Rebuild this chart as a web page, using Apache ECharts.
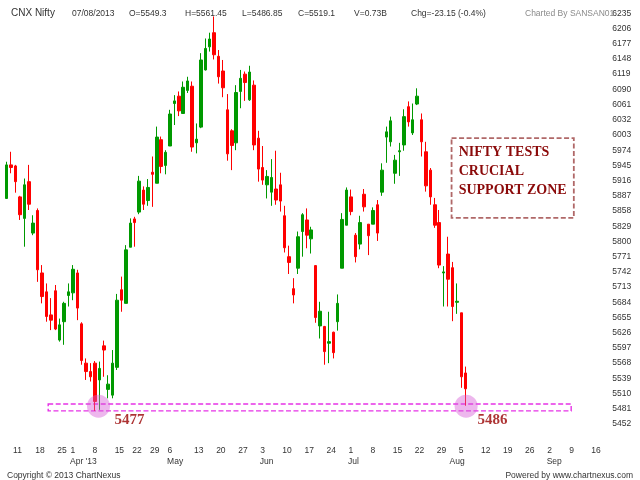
<!DOCTYPE html>
<html>
<head>
<meta charset="utf-8">
<script src="https://cdn.jsdelivr.net/npm/echarts@6/dist/echarts.min.js"></script>
<style>html,body{margin:0;padding:0;background:#fff}#c{width:640px;height:480px}</style>
</head>
<body>
<div id="c"></div>
<script>
// ---- trading days (2013) ----
const dates = [
  '03-08','03-11','03-12','03-13','03-14','03-15','03-18','03-19','03-20','03-21','03-22','03-25','03-26','03-28',
  '04-01','04-02','04-03','04-04','04-05','04-08','04-09','04-10','04-11','04-12','04-15','04-16','04-17','04-18',
  '04-22','04-23','04-25','04-26','04-29','04-30',
  '05-02','05-03','05-06','05-07','05-08','05-09','05-10','05-11','05-13','05-14','05-15','05-16','05-17',
  '05-20','05-21','05-22','05-23','05-24','05-27','05-28','05-29','05-30','05-31',
  '06-03','06-04','06-05','06-06','06-07','06-10','06-11','06-12','06-13','06-14','06-17','06-18','06-19','06-20','06-21',
  '06-24','06-25','06-26','06-27','06-28',
  '07-01','07-02','07-03','07-04','07-05','07-08','07-09','07-10','07-11','07-12','07-15','07-16','07-17','07-18','07-19',
  '07-22','07-23','07-24','07-25','07-26','07-29','07-30','07-31',
  '08-01','08-02','08-05','08-06','08-07'
];
// empty future slots shown on the time axis
const futureDates = [
  '08-08','08-09','08-12','08-13','08-14','08-15','08-16','08-19','08-20','08-21','08-22','08-23',
  '08-26','08-27','08-28','08-29','08-30','09-02','09-03','09-04','09-05','09-06',
  '09-09','09-10','09-11','09-12','09-13','09-16','09-17','09-18'
];

const opens = [
  5882,5946,5944,5885,5844,5914,5816,5859,5740,5704,5660,5706,5612,5647,
  5697,5702,5740,5643,5568,5552,5568,5536,5601,5518,5507,5560,5708,5682,
  5789,5843,5856,5898,5878,5932,
  5911,5994,5945,5982,6063,6077,6044,6088,6096,5988,6018,6127,6171,
  6198,6153,6125,6051,6011,5988,6086,6119,6070,6098,
  5997,5941,5908,5894,5900,5908,5849,5771,5710,5749,5819,5841,5805,5754,5639,
  5638,5606,5627,5647,5749,
  5831,5885,5812,5795,5890,5833,5833,5870,5894,5999,5990,5930,5971,5984,6057,
  6007,6062,6032,5971,5936,5870,5836,5740,
  5776,5750,5684,5664,5549.3
];
const closes = [
  5946,5941,5914,5851,5908,5871,5835,5746,5695,5657,5650,5633,5641,5682,
  5704,5747,5673,5573,5552,5542,5495,5558,5593,5528,5568,5688,5688,5784,
  5835,5836,5915,5871,5903,5928,
  5999,5943,5970,6043,6068,6049,6094,6106,5980,5995,6146,6168,6186,
  6156,6114,6093,5967,5983,6084,6111,6103,6123,5984,
  5938,5917,5924,5922,5879,5877,5788,5760,5698,5809,5851,5812,5822,5655,5667,
  5590,5609,5588,5682,5842,
  5898,5857,5771,5836,5866,5811,5859,5816,5936,6009,6030,5955,5973,6038,6028,
  6032,6077,5990,5906,5885,5831,5755,5742,
  5728,5676,5686,5542,5519.1
];
const lows = [
  5881,5930,5893,5841,5790,5860,5812,5723,5682,5647,5631,5631,5609,5603,
  5676,5688,5650,5565,5536,5533,5477,5479,5542,5501,5501,5555,5666,5682,
  5789,5790,5852,5860,5868,5866,
  5911,5930,5928,5982,6022,6039,6044,6083,5971,5968,6016,6126,6162,
  6147,6101,6075,5954,5936,5974,6054,6068,6068,5974,
  5914,5908,5882,5868,5870,5857,5779,5738,5682,5738,5771,5787,5777,5645,5615,
  5565,5568,5577,5630,5749,
  5831,5850,5760,5785,5857,5774,5833,5801,5887,5950,5981,5910,5925,5973,6019,
  6003,6060,5962,5895,5870,5826,5749,5676,
  5676,5648,5662,5521,5486.85
];
const highs = [
  5952,5971,5946,5887,5920,5946,5850,5863,5755,5720,5692,5717,5653,5685,
  5720,5755,5746,5646,5577,5568,5572,5571,5611,5545,5593,5700,5733,5793,
  5844,5847,5925,5905,5919,5962,
  6019,6000,5974,6051,6079,6086,6105,6114,6105,6025,6159,6187,6198,
  6229,6165,6146,6081,6014,6098,6127,6124,6135,6107,
  6011,5982,5936,5957,5973,5931,5868,5792,5730,5819,5854,5863,5828,5755,5685,
  5639,5666,5628,5699,5854,
  5903,5899,5816,5849,5900,5833,5865,5879,5949,6019,6038,5965,5988,6052,6067,
  6063,6092,6044,5990,5940,5883,5860,5753,
  5809,5761,5720,5664,5561.45
];

// ---- axis labelling ----
const weekLabelDates = ['03-11','03-18','03-25','04-01','04-08','04-15','04-22','04-29','05-06','05-13','05-20','05-27',
  '06-03','06-10','06-17','06-24','07-01','07-08','07-15','07-22','07-29','08-05','08-12','08-19','08-26','09-02','09-09','09-16'];
const monthLabelDates = ['04-01','05-06','06-03','07-01','08-01','09-02'];
const monthLabelTexts = ["Apr '13",'May','Jun','Jul','Aug','Sep'];
const yMin = 5452, yMax = 6235, yStep = 29;

// ---- annotations (x in slot index, y in index points) ----
const supportZone = [9.4, 127.9, 5477, 5490];
const markerCircles = [[20.8, 5486], [104.1, 5486]];
const markerTexts = [[27.8, 5459, '5477'], [110.1, 5459, '5486']];
const noteBox = [100.8, 128.5, 5845, 5997];
const noteLines = ['NIFTY TESTS', 'CRUCIAL', 'SUPPORT ZONE'];

// ---- header ----
const last = dates.length - 1;
const headerTexts = [
  'CNX Nifty', '07/08/2013', 'O=' + opens[last], 'H=' + highs[last], 'L=' + lows[last],
  'C=' + closes[last], 'V=0.73B', 'Chg=-23.15 (-0.4%)', 'Charted By SANSAN01'
];
const headerLeft = [6, 67, 124, 180, 237, 293, 349, 406, 520];

const allCats = dates.concat(futureDates);
const weekSet = new Set(weekLabelDates);
const monthMap = {};
monthLabelDates.forEach((d, i) => monthMap[d] = monthLabelTexts[i]);
const candles = dates.map((d, i) => [opens[i], closes[i], lows[i], highs[i]]);

const sans = '"Liberation Sans", Arial, sans-serif';
const serif = '"Liberation Serif", "Times New Roman", serif';

const titles = headerTexts.map((t, i) => ({
  text: t, left: headerLeft[i], top: i === 0 ? 3 : 4,
  textStyle: { fontSize: i === 0 ? 10 : 8.5, fontWeight: 'normal', fontFamily: sans,
    color: i === headerTexts.length - 1 ? '#8a8a8a' : '#333' }
}));
titles.push({ text: 'Copyright © 2013 ChartNexus', left: 2, top: 466,
  textStyle: { fontSize: 8.5, fontWeight: 'normal', fontFamily: sans, color: '#333' } });
titles.push({ text: 'Powered by www.chartnexus.com', right: 2, top: 466,
  textStyle: { fontSize: 8.5, fontWeight: 'normal', fontFamily: sans, color: '#333' } });

const chart = echarts.init(document.getElementById('c'));
chart.setOption({
  animation: false,
  backgroundColor: '#fff',
  title: titles,
  grid: { left: 4.5, right: 39.7, top: 13.3, bottom: 56 },
  xAxis: [
    { type: 'category', data: allCats, boundaryGap: true,
      axisLine: { show: false }, axisTick: { show: false }, splitLine: { show: false },
      axisLabel: { interval: (i, v) => weekSet.has(v), formatter: v => String(parseInt(v.slice(3), 10)),
        align: 'left', padding: [0, 0, 0, 2], margin: 22, fontSize: 8.5, color: '#333', fontFamily: sans } },
    { type: 'category', data: allCats, boundaryGap: true, position: 'bottom',
      axisLine: { show: false }, axisTick: { show: false }, splitLine: { show: false },
      axisLabel: { interval: (i, v) => v in monthMap, formatter: v => monthMap[v] || '',
        align: 'left', padding: [0, 0, 0, 1.5], margin: 33.5, fontSize: 8.5, color: '#333', fontFamily: sans } },
    { type: 'value', min: -0.5, max: allCats.length - 0.5, show: false }
  ],
  yAxis: {
    type: 'value', position: 'right', min: yMin, max: yMax, interval: yStep,
    axisLine: { show: false }, axisTick: { show: false }, splitLine: { show: false },
    axisLabel: { margin: 12, fontSize: 8.5, color: '#333', fontFamily: sans, formatter: v => String(v) }
  },
  series: [
    { type: 'candlestick', xAxisIndex: 0, data: candles, barWidth: 3,
      itemStyle: { color: '#009900', color0: '#ff0000', borderColor: '#009900', borderColor0: '#ff0000', borderWidth: 1 } },
    { type: 'scatter', xAxisIndex: 2, data: markerCircles, symbolSize: 23, silent: true, z: 3,
      itemStyle: { color: 'rgba(214,92,214,0.55)' },
      markArea: { silent: true,
        data: [
          [ { coord: [supportZone[0], supportZone[3]],
              itemStyle: { color: 'rgba(0,0,0,0)', borderColor: '#e633e6', borderWidth: 1.4, borderType: [5, 2.5] } },
            { coord: [supportZone[1], supportZone[2]] } ],
          [ { coord: [noteBox[0], noteBox[3]],
              itemStyle: { color: 'rgba(0,0,0,0)', borderColor: '#b06868', borderWidth: 1.8, borderType: [5, 2.5] },
              label: { show: true, position: 'insideTopLeft', formatter: noteLines.join('\n'),
                color: '#8b0a0a', fontFamily: serif, fontWeight: 'bold', fontSize: 14, lineHeight: 19,
                distance: 0, padding: [6, 0, 0, 8] } },
            { coord: [noteBox[1], noteBox[2]] } ]
        ] } },
    { type: 'scatter', xAxisIndex: 2, data: markerTexts, symbolSize: 1, silent: true,
      itemStyle: { color: 'rgba(0,0,0,0)' },
      label: { show: true, position: 'inside', formatter: p => p.value[2],
        color: '#990000', fontFamily: serif, fontWeight: 'bold', fontSize: 15 } }
  ]
});
</script>
</body>
</html>
